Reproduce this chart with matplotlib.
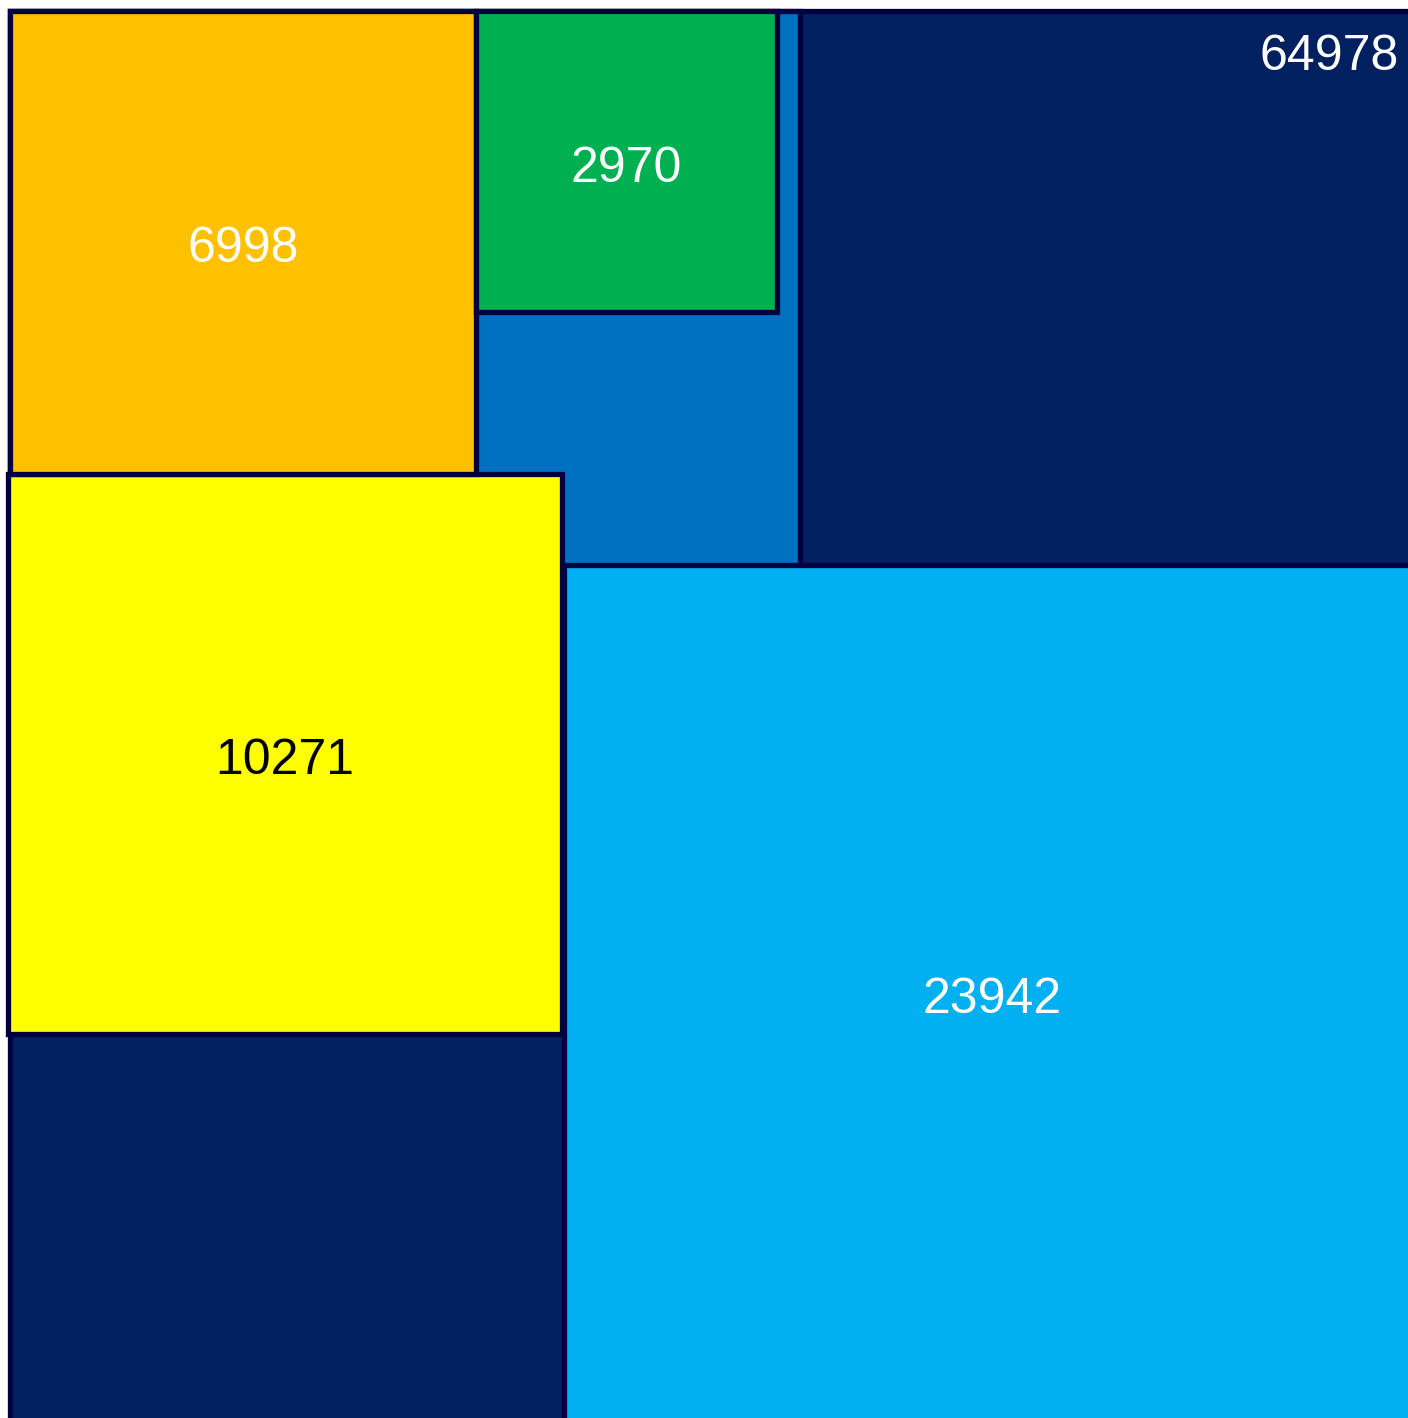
import numpy as np
import matplotlib.pyplot as plt
from matplotlib.patches import Rectangle

plt.rcParams['font.family'] = ['Liberation Sans', 'DejaVu Sans']

# Values shown as nested squares (area proportional to value).
labels = ['64978', '', '23942', '10271', '6998', '2970']
values = [64978, 20400, 23942, 10271, 6998, 2970]
colors = ['#002060', '#0070C0', '#00B0F0', '#FFFF00', '#FFC000', '#00B050']
text_colors = ['white', 'white', 'white', 'black', 'white', 'white']

# Pixel scale per sqrt(value) and origin of the outer square.
scale = 5.531
x0, y0 = 10, 11
sides = [scale * np.sqrt(v) for v in values]
S = sides[0]

# Square positions (top-left corners) from the layout rules.
pos = [
    (x0, y0),                                  # outer square
    (x0, y0),                                  # hidden square, top-left
    (x0 + S - sides[2], y0 + S - sides[2]),    # bottom-right corner
    (x0 - 2, y0 + sides[4]),                   # under the orange square
    (x0, y0),                                  # top-left
    (x0 + sides[4] + 3, y0),                   # right of the orange square
]
widths = list(sides)
widths[4] = sides[4] + 3
# yellow box stops where the light blue one starts
widths[3] = pos[2][0] - pos[3][0] - 2

fig = plt.figure(figsize=(14.08, 14.18), dpi=100)
ax = fig.add_axes([0, 0, 1, 1])
ax.set_xlim(0, 1408)
ax.set_ylim(1418, 0)
ax.axis('off')

for i, (s, w, (x, y)) in enumerate(zip(sides, widths, pos)):
    ax.add_patch(Rectangle((x, y), w, s, facecolor=colors[i], edgecolor='#000040',
                           linewidth=3.8, zorder=2 * i + 1))
    if i == 0:
        # label of the outer square sits in the top-right corner
        ax.text(1399, 52, labels[i], color=text_colors[i], fontsize=36,
                ha='right', va='center_baseline', zorder=20)
    elif labels[i]:
        ax.text(x + w / 2, y + s / 2 + 2, labels[i], color=text_colors[i], fontsize=36,
                ha='center', va='center_baseline', zorder=2 * i + 2)

fig.savefig('out.png', dpi=100)
